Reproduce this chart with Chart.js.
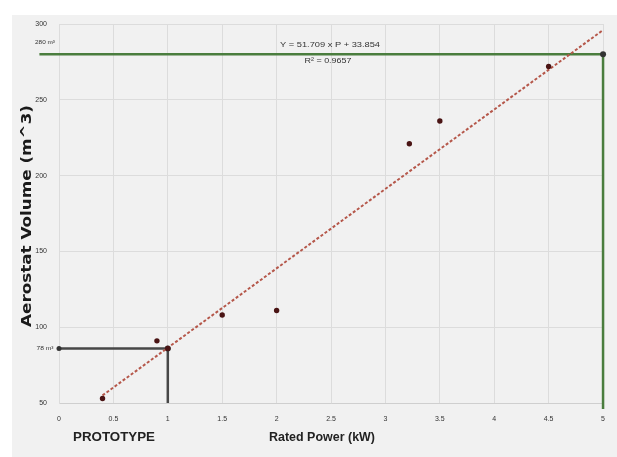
<!DOCTYPE html>
<html>
<head>
<meta charset="utf-8">
<script src="https://cdn.jsdelivr.net/npm/chart.js@4"></script>
<style>
  html, body { margin: 0; padding: 0; background: #fff; }
  #wrap { width: 617px; height: 457px; }
</style>
</head>
<body>
<div id="wrap"><canvas id="c" width="617" height="457"></canvas></div>
<script>
// measured points: rated power (kW) vs aerostat volume (m^3)
const powerKW = [0.4, 0.9, 1.0, 1.5, 2.0, 3.22, 3.5, 4.5];
const volumeM3 = [53, 91, 86, 108, 111, 221, 236, 272];

// trend line end points as drawn
const trendX = [0.4, 5];
const trendY = [55, 296];

// green guide (full size) and grey guide (prototype)
const greenX = [-0.18, 5, 5];
const greenY = [280, 280, 46];
const protoX = [0, 1, 1];
const protoY = [86, 86, 50];

const xTicks = ['0', '0.5', '1', '1.5', '2', '2.5', '3', '3.5', '4', '4.5', '5'];
const yTicks = ['50', '100', '150', '200', '250', '300'];

const toXY = (xs, ys) => xs.map((x, i) => ({ x: x, y: ys[i] }));

// texto estirado a un ancho dado
function fitText(ctx, text, x, y, width) {
    const w = ctx.measureText(text).width;
    ctx.save();
    ctx.translate(x, y);
    ctx.scale(width / w, 1);
    ctx.fillText(text, 0, 0);
    ctx.restore();
}

const extras = {
    id: 'extras',
    beforeDraw(chart) {
        const ctx = chart.ctx;
        ctx.save();
        ctx.fillStyle = '#ffffff';
        ctx.fillRect(0, 0, chart.width, chart.height);
        ctx.fillStyle = '#f1f1f1';
        ctx.fillRect(12, 15, chart.width - 12, chart.height - 15);
        ctx.restore();
    },
    afterDraw(chart) {
        const ctx = chart.ctx;
        const ys = chart.scales.y;
        ctx.save();
        ctx.fillStyle = '#333';
        ctx.textBaseline = 'middle';
        ctx.textAlign = 'center';

        // labels for the guides
        ctx.font = '6px "Liberation Sans"';
        fitText(ctx, '280 m³', 45, 42, 20);
        fitText(ctx, '78 m³', 45, ys.getPixelForValue(86), 17);

        // equation
        ctx.font = '8px "Liberation Sans"';
        fitText(ctx, 'Y = 51.709 x P + 33.854', 330, 45, 100);
        fitText(ctx, 'R² = 0.9657', 328, 61, 47);

        // axis titles
        ctx.fillStyle = '#222';
        ctx.font = 'bold 13px "Liberation Sans"';
        fitText(ctx, 'Rated Power (kW)', 322, 437, 106);
        fitText(ctx, 'PROTOTYPE', 114, 437, 82);

        ctx.translate(27, 216);
        ctx.rotate(-Math.PI / 2);
        ctx.fillStyle = '#1a1a1a';
        ctx.font = 'bold 14px "DejaVu Sans"';
        fitText(ctx, 'Aerostat Volume (m^3)', 0, 0, 222);
        ctx.restore();
    }
};

new Chart(document.getElementById('c'), {
    type: 'scatter',
    data: {
        datasets: [
            {
                data: toXY(greenX, greenY),
                showLine: true,
                borderColor: '#4a7d3e',
                borderWidth: 2.5,
                pointRadius: [2.5, 3, 0],
                pointBackgroundColor: ['#3e7a32', '#333', '#333'],
                pointBorderWidth: 0,
                clip: false,
                order: 3
            },
            {
                data: toXY(protoX, protoY),
                showLine: true,
                borderColor: '#474747',
                borderWidth: 2.5,
                pointRadius: [2.5, 3, 0],
                pointBackgroundColor: '#333',
                pointBorderWidth: 0,
                clip: false,
                order: 2
            },
            {
                data: toXY(trendX, trendY),
                showLine: true,
                borderColor: '#b5574a',
                borderWidth: 2,
                borderDash: [3, 2],
                pointRadius: 0,
                order: 1
            },
            {
                data: toXY(powerKW, volumeM3),
                pointRadius: 2.7,
                pointBackgroundColor: '#4a1414',
                pointBorderWidth: 0,
                order: 0
            }
        ]
    },
    options: {
        responsive: false,
        animation: false,
        layout: { padding: { left: 0, top: 24, right: 8, bottom: 0 } },
        plugins: { legend: { display: false }, tooltip: { enabled: false } },
        scales: {
            x: {
                type: 'linear',
                min: 0,
                max: 5,
                afterFit(s) { s.height = 54; },
                afterBuildTicks(s) { s.ticks = xTicks.map(t => ({ value: parseFloat(t) })); },
                ticks: {
                    padding: 12,
                    color: '#333',
                    font: { size: 7, family: '"Liberation Sans"' },
                    callback: (v, i) => xTicks[i]
                },
                grid: { color: '#dcdcdc', drawTicks: false },
                border: { color: '#cfcfcf' }
            },
            y: {
                type: 'linear',
                min: 50,
                max: 300,
                afterFit(s) { s.width = 59; },
                afterBuildTicks(s) { s.ticks = yTicks.map(t => ({ value: parseFloat(t) })); },
                ticks: {
                    padding: 12,
                    color: '#333',
                    font: { size: 7, family: '"Liberation Sans"' },
                    callback: (v, i) => yTicks[i]
                },
                grid: { color: '#dcdcdc', drawTicks: false },
                border: { color: '#dcdcdc' }
            }
        }
    },
    plugins: [extras]
});
</script>
</body>
</html>
